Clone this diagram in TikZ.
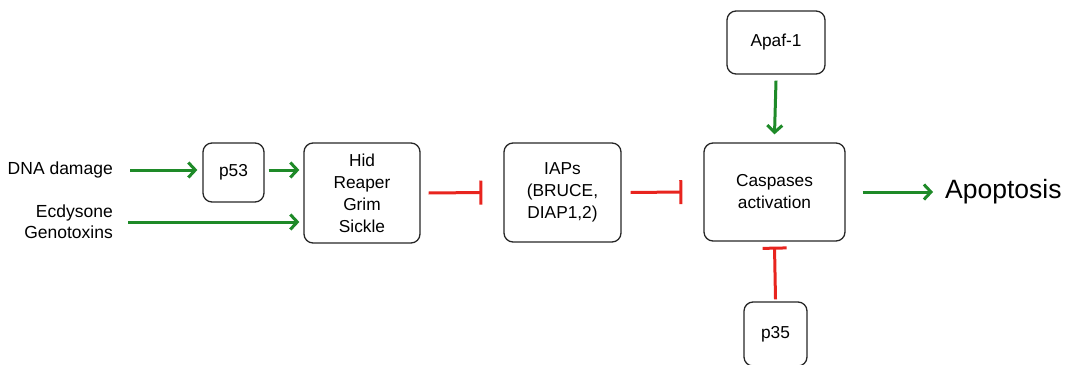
\documentclass[tikz,border=0pt]{standalone}
\usepackage{fontspec}
\setmainfont{Liberation Sans}
\usetikzlibrary{arrows.meta}
\definecolor{actgreen}{RGB}{30,138,40}
\definecolor{inhred}{RGB}{232,36,30}
\begin{document}
\begin{tikzpicture}[x=1pt,y=-1pt,
  box/.style={draw=black!85,line width=1.3pt,rounded corners=9pt,align=center,
    font=\fontsize{17.3}{22}\selectfont,inner sep=0pt},
  lbl/.style={font=\fontsize{17.5}{21.5}\selectfont,inner sep=0pt},
  act/.style={draw=actgreen,line width=3pt,-{Straight Barb[length=7pt,width=15pt,line width=3pt]}},
  inh/.style={draw=inhred,line width=3pt,-{Bar[width=24pt,line width=3pt]}}]
\useasboundingbox (0,0) rectangle (1070,364);
\node[box,minimum width=61pt,minimum height=59pt] (p53) at (233.5,172.5) {p53};
\node[box,minimum width=116pt,minimum height=100pt] (hid) at (362,193) {Hid\\Reaper\\Grim\\Sickle};
\node[box,minimum width=117pt,minimum height=99pt] (iap) at (562.5,192.5) {IAPs\\(BRUCE,\\DIAP1,2)};
\node[box,minimum width=141pt,minimum height=98pt] (casp) at (774.5,192) {Caspases\\activation};
\node[box,minimum width=98pt,minimum height=63pt] (apaf) at (776,42.5) {Apaf-1};
\node[box,minimum width=63pt,minimum height=64pt] (p35) at (775.5,334) {p35};
\node[lbl,anchor=east] (dna) at (113,170) {DNA damage};
\node[lbl,anchor=east,align=right] (ecd) at (113,221.5) {Ecdysone\\Genotoxins};
\node[font=\fontsize{26.5}{30}\selectfont,inner sep=0pt,anchor=west] (apo) at (945,192) {Apoptosis};
\draw[act] ([xshift=17pt]dna.east) -- ([xshift=-5pt]p53.west |- dna.east);
\draw[act] ([xshift=4pt]p53.east |- dna.east) -- ([xshift=-4pt]hid.west |- dna.east);
\draw[act] (128,222) -- ([xshift=-4pt]hid.west |- 0,222);
\draw[inh] ([xshift=8pt]hid.east) -- ([xshift=-21pt]iap.west);
\draw[inh] ([xshift=9pt]iap.east) -- ([xshift=-21pt]casp.west);
\draw[act] ([yshift=-6pt]apaf.south) -- ([yshift=8pt]casp.north);
\draw[inh] ([yshift=2pt]p35.north) -- ([yshift=-5pt]casp.south);
\draw[act] ([xshift=17pt]casp.east) -- ([xshift=-12pt]apo.west);
\end{tikzpicture}
\end{document}
